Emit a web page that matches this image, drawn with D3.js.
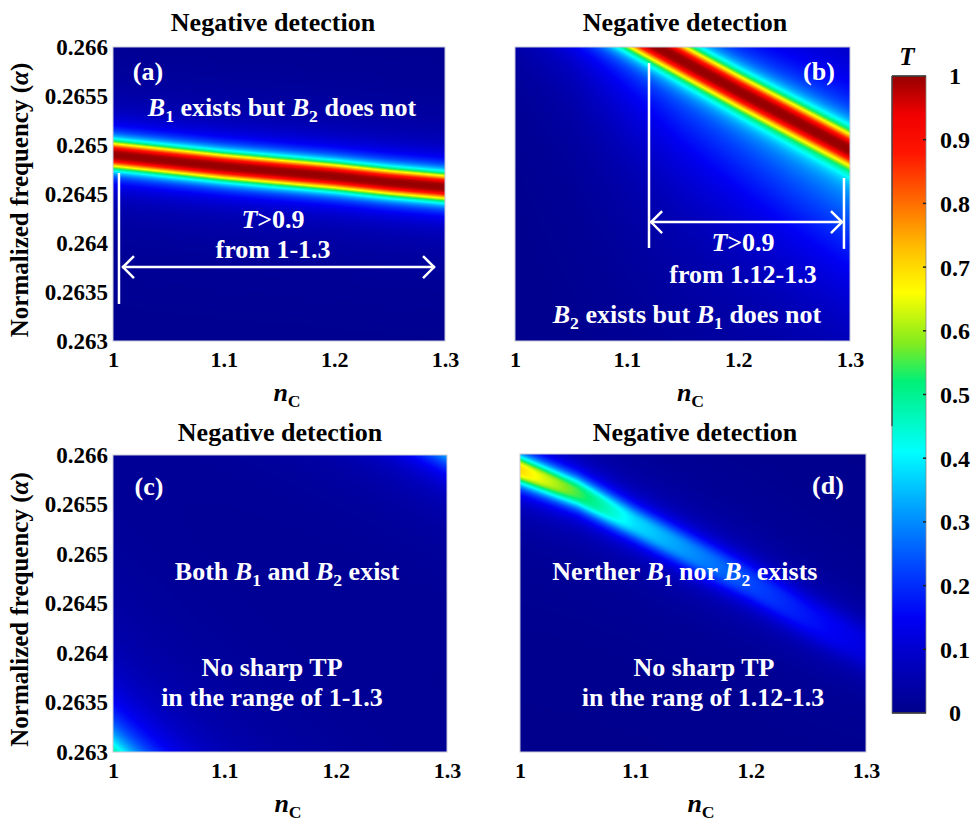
<!DOCTYPE html>
<html>
<head>
<meta charset="utf-8">
<script src="https://cdn.jsdelivr.net/npm/d3@7"></script>
<style>
  body { margin: 0; background: #fff; }
  svg { display: block; }
  text { font-family: "Liberation Serif", "Times New Roman", serif; font-weight: bold; fill: #000; }
</style>
</head>
<body>
<svg id="fig" width="976" height="823"></svg>
<script>
// ---- axes ----
const nGrid = [1.00, 1.05, 1.10, 1.15, 1.20, 1.25, 1.30];
const xTicks = [1, 1.1, 1.2, 1.3];
const xTickLabels = ["1", "1.1", "1.2", "1.3"];
const yTicks = [0.263, 0.2635, 0.264, 0.2645, 0.265, 0.2655, 0.266];
const yTickLabels = ["0.263", "0.2635", "0.264", "0.2645", "0.265", "0.2655", "0.266"];
const cbTicks = [0, 0.1, 0.2, 0.3, 0.4, 0.5, 0.6, 0.7, 0.8, 0.9, 1];
const cbTickLabels = ["0", "0.1", "0.2", "0.3", "0.4", "0.5", "0.6", "0.7", "0.8", "0.9", "1"];

// ---- colour map of T ----
const cmapStops  = [0, 0.07, 0.15, 0.23, 0.32, 0.41, 0.52, 0.58, 0.66, 0.73, 0.80, 0.88, 0.94, 1];
const cmapColors = ["#00008c", "#0000b9", "#0000f5", "#0046ff", "#00a0ff", "#00ffff", "#00f078",
                    "#82eb1e", "#ffff00", "#ffbe00", "#ff6e00", "#ff1400", "#f00000", "#960000"];

// ---- transmission bands: centre frequency, peak T and half-width along nGrid ----
// (a) B1 band
const aB1Center = [0.26490, 0.26484, 0.26478, 0.26473, 0.26468, 0.26462, 0.26457];
const aB1Peak   = [1, 1, 1, 1, 1, 1, 1];
const aB1Width  = [0.000135, 0.000135, 0.000135, 0.000135, 0.000135, 0.000135, 0.000135];
// (b) B2 band and its broad tail
const bB2Center = [0.26677, 0.26647, 0.26617, 0.26586, 0.26555, 0.26525, 0.26495];
const bB2Peak   = [1, 1, 1, 1, 1, 1, 1];
const bB2Width  = [0.00017, 0.00017, 0.00017, 0.00017, 0.00017, 0.00017, 0.00017];
const bTailCenter = [0.26637, 0.26607, 0.26577, 0.26546, 0.26515, 0.26485, 0.26455];
const bTailPeak   = [0.00, 0.03, 0.09, 0.14, 0.17, 0.20, 0.22];
const bTailWidth  = [0.0010, 0.0010, 0.0010, 0.0010, 0.0010, 0.0010, 0.0010];
// (c) bands just outside the window (lower-left and upper-right)
const cLowCenter  = [0.26280, 0.26230, 0.26180, 0.26130, 0.26080, 0.26030, 0.25980];
const cLowPeak    = [0.62, 0.62, 0.62, 0.62, 0.62, 0.62, 0.62];
const cLowWidth   = [0.0004, 0.0004, 0.0004, 0.0004, 0.0004, 0.0004, 0.0004];
const cHighCenter = [0.26795, 0.26765, 0.26735, 0.26705, 0.26675, 0.26645, 0.26615];
const cHighPeak   = [0.45, 0.45, 0.45, 0.45, 0.45, 0.45, 0.45];
const cHighWidth  = [0.00025, 0.00025, 0.00025, 0.00025, 0.00025, 0.00025, 0.00025];
// (d) weak fading band
const dCenter = [0.26584, 0.26561, 0.26530, 0.26500, 0.26470, 0.26436, 0.26406];
const dPeak   = [0.70, 0.55, 0.38, 0.30, 0.23, 0.17, 0.12];
const dWidth  = [0.00014, 0.00015, 0.00017, 0.00019, 0.00021, 0.00023, 0.00025];

const panels = [
  { key: "a", left: 113, top: 47, w: 332, h: 294, yAxis: true, titleX: 273, titleY: 31,
    bands: [{ center: aB1Center, peak: aB1Peak, width: aB1Width, shape: "sharp" }],
    notes: [
      { n: 1.0316, f: 0.265745, segs: [["(a)", ""]] },
      { n: 1.1527, f: 0.265378, segs: [["B", "i"], ["1", "s"], [" exists but ", ""], ["B", "i"], ["2", "s"], [" does not", ""]] },
      { n: 1.1446, f: 0.264235, segs: [["T", "i"], [">0.9", ""]] },
      { n: 1.1446, f: 0.263929, segs: [["from 1-1.3", ""]] }
    ],
    vlines: [{ n: 1.0054, f0: 0.264714, f1: 0.263378 }],
    arrows: [{ n0: 1.0081, n1: 1.291, f: 0.263755 }] },
  { key: "b", left: 515, top: 47, w: 335, h: 294, yAxis: false, titleX: 685, titleY: 31,
    bands: [{ center: bB2Center, peak: bB2Peak, width: bB2Width, shape: "sharp" },
            { center: bTailCenter, peak: bTailPeak, width: bTailWidth, shape: "soft" }],
    notes: [
      { n: 1.2722, f: 0.265745, segs: [["(b)", ""]] },
      { n: 1.2042, f: 0.264000, segs: [["T", "i"], [">0.9", ""]] },
      { n: 1.2042, f: 0.263674, segs: [["from 1.12-1.3", ""]] },
      { n: 1.1540, f: 0.263265, segs: [["B", "i"], ["2", "s"], [" exists but ", ""], ["B", "i"], ["1", "s"], [" does not", ""]] }
    ],
    vlines: [{ n: 1.12, f0: 0.265837, f1: 0.263949 }, { n: 1.2946, f0: 0.264663, f1: 0.263940 }],
    arrows: [{ n0: 1.121, n1: 1.2937, f: 0.264214 }] },
  { key: "c", left: 113, top: 455, w: 334, h: 297, yAxis: true, titleX: 280, titleY: 441,
    bands: [{ center: cLowCenter, peak: cLowPeak, width: cLowWidth, shape: "soft" },
            { center: cHighCenter, peak: cHighPeak, width: cHighWidth, shape: "soft" }],
    notes: [
      { n: 1.0323, f: 0.265677, segs: [["(c)", ""]] },
      { n: 1.1563, f: 0.264818, segs: [["Both ", ""], ["B", "i"], ["1", "s"], [" and ", ""], ["B", "i"], ["2", "s"], [" exist", ""]] },
      { n: 1.1428, f: 0.263848, segs: [["No sharp TP", ""]] },
      { n: 1.1428, f: 0.263545, segs: [["in the range of 1-1.3", ""]] }
    ],
    vlines: [], arrows: [] },
  { key: "d", left: 520, top: 454, w: 346, h: 298, yAxis: false, titleX: 695, titleY: 441,
    bands: [{ center: dCenter, peak: dPeak, width: dWidth, shape: "sharp" }],
    notes: [
      { n: 1.2670, f: 0.265678, segs: [["(d)", ""]] },
      { n: 1.1430, f: 0.264812, segs: [["Nerther ", ""], ["B", "i"], ["1", "s"], [" nor ", ""], ["B", "i"], ["2", "s"], [" exists", ""]] },
      { n: 1.1595, f: 0.263846, segs: [["No sharp TP", ""]] },
      { n: 1.1587, f: 0.263544, segs: [["in the rang of 1.12-1.3", ""]] }
    ],
    vlines: [], arrows: [] }
];

const svg = d3.select("#fig");
const cmap = d3.scaleLinear().domain(cmapStops).range(cmapColors).clamp(true);
const lut = d3.range(1024).map(i => d3.rgb(cmap(i / 1023)));

// writes a run of styled pieces: "i" italic, "s" subscript
function rich(sel, segs, fs) {
  let down = false;
  segs.forEach(([t, st]) => {
    const ts = sel.append("tspan").text(t);
    if (st === "i") ts.attr("font-style", "italic");
    if (st === "s") {
      ts.attr("font-size", fs * 0.68).attr("dy", fs * 0.22);
      down = true;
    } else if (down) {
      ts.attr("dy", -fs * 0.22);
      down = false;
    }
  });
  return sel;
}

// band profile: rounded peak with a long faint tail
function bandT(p, u, sharp) {
  const a = Math.abs(u), u2 = u * u;
  return sharp ? p * (0.85 / (1 + a * a * a) + 0.15 / (1 + u2 / 6.25)) : p / (1 + u2);
}

function heatmap(g, x, y, bands, w, h) {
  const canvas = document.createElement("canvas");
  canvas.width = w; canvas.height = h;
  const ctx = canvas.getContext("2d");
  const img = ctx.createImageData(w, h);
  const rs = bands.map(b => ({
    c: d3.scaleLinear().domain(nGrid).range(b.center),
    p: d3.scaleLinear().domain(nGrid).range(b.peak),
    g: d3.scaleLinear().domain(nGrid).range(b.width),
    sharp: b.shape === "sharp"
  }));
  for (let i = 0; i < w; i++) {
    const n = x.invert(i + 0.5);
    const pre = rs.map(r => [r.c(n), r.p(n), r.g(n), r.sharp]);
    for (let j = 0; j < h; j++) {
      const f = y.invert(j + 0.5);
      // overlapping bands combine without exceeding full transmission
      let miss = 1;
      for (const [c, p, gw, sharp] of pre) miss *= 1 - Math.min(1, bandT(p, (f - c) / gw, sharp));
      const T = Math.max(0, Math.min(1, 1 - miss));
      const col = lut[Math.round(T * 1023)];
      const k = (j * w + i) * 4;
      img.data[k] = col.r; img.data[k + 1] = col.g; img.data[k + 2] = col.b; img.data[k + 3] = 255;
    }
  }
  ctx.putImageData(img, 0, 0);
  g.append("image").attr("x", 0).attr("y", 0).attr("width", w).attr("height", h)
    .attr("preserveAspectRatio", "none").attr("href", canvas.toDataURL());
}

panels.forEach(p => {
  const g = svg.append("g").attr("transform", `translate(${p.left},${p.top})`);
  const x = d3.scaleLinear().domain([1, 1.3]).range([0, p.w]);
  const y = d3.scaleLinear().domain([0.263, 0.266]).range([p.h, 0]);

  heatmap(g, x, y, p.bands, p.w, p.h);
  g.append("rect").attr("width", p.w).attr("height", p.h)
    .attr("fill", "none").attr("stroke", "#c8c8d8").attr("stroke-width", 1);

  // x axis
  const xa = g.append("g").attr("transform", `translate(0,${p.h})`)
    .call(d3.axisBottom(x).tickValues(xTicks).tickFormat((d, i) => xTickLabels[i]).tickSize(0).tickPadding(10));
  xa.select(".domain").remove();
  xa.selectAll("text").attr("font-size", 22).attr("font-family", null).attr("fill", "#000");

  if (p.yAxis) {
    const ya = g.append("g")
      .call(d3.axisLeft(y).tickValues(yTicks).tickFormat((d, i) => yTickLabels[i]).tickSize(0).tickPadding(5));
    ya.select(".domain").remove();
    ya.selectAll("text").attr("font-size", 23).attr("font-family", null).attr("fill", "#000");
    const yl = svg.append("text")
      .attr("transform", `translate(28,${p.top + p.h / 2 + 6}) rotate(-90)`)
      .attr("text-anchor", "middle").attr("font-size", 25);
    rich(yl, [["Normalized frequency (", ""], ["α", "i"], [")", ""]], 25);
  }

  // x label
  const xl = svg.append("text")
    .attr("x", p.left + p.w / 2 + 8).attr("y", p.top + p.h + 60)
    .attr("text-anchor", "middle").attr("font-size", 26);
  rich(xl, [["n", "i"], ["C", "s"]], 26);

  // title
  svg.append("text").attr("x", p.titleX).attr("y", p.titleY)
    .attr("text-anchor", "middle").attr("font-size", 26).text("Negative detection");

  // annotations
  p.notes.forEach(a => {
    const t = g.append("text").attr("x", x(a.n)).attr("y", y(a.f) + 8)
      .attr("text-anchor", "middle").attr("font-size", 26).style("fill", "#fff");
    rich(t, a.segs, 26);
  });
  p.vlines.forEach(l => {
    g.append("line").attr("x1", x(l.n)).attr("x2", x(l.n)).attr("y1", y(l.f0)).attr("y2", y(l.f1))
      .attr("stroke", "#fff").attr("stroke-width", 2.5);
  });
  p.arrows.forEach(a => {
    const x0 = x(a.n0), x1 = x(a.n1), yy = y(a.f);
    g.append("line").attr("x1", x0).attr("x2", x1).attr("y1", yy).attr("y2", yy)
      .attr("stroke", "#fff").attr("stroke-width", 2.5);
    g.append("path").attr("d", `M${x0 + 12},${yy - 11}L${x0 + 1},${yy}L${x0 + 12},${yy + 11}`)
      .attr("fill", "none").attr("stroke", "#fff").attr("stroke-width", 2.5);
    g.append("path").attr("d", `M${x1 - 12},${yy - 11}L${x1 - 1},${yy}L${x1 - 12},${yy + 11}`)
      .attr("fill", "none").attr("stroke", "#fff").attr("stroke-width", 2.5);
  });
});

// ---- colour bar ----
const cbX = 892, cbW = 34;
const cbY = d3.scaleLinear().domain([0, 1]).range([713, 76]);
const grad = svg.append("defs").append("linearGradient").attr("id", "cbGrad")
  .attr("x1", 0).attr("y1", 1).attr("x2", 0).attr("y2", 0);
cmapStops.forEach((s, i) => grad.append("stop").attr("offset", s).attr("stop-color", cmapColors[i]));
svg.append("rect").attr("x", cbX).attr("y", cbY(1)).attr("width", cbW).attr("height", cbY(0) - cbY(1))
  .attr("fill", "url(#cbGrad)").attr("stroke", "#888").attr("stroke-width", 0.8);
svg.append("line").attr("x1", cbX).attr("x2", cbX + cbW).attr("y1", cbY(1)).attr("y2", cbY(1))
  .attr("stroke", "#333").attr("stroke-width", 1.5);
svg.append("line").attr("x1", cbX).attr("x2", cbX + cbW).attr("y1", cbY(0)).attr("y2", cbY(0))
  .attr("stroke", "#333").attr("stroke-width", 1.5);
svg.append("line").attr("x1", cbX).attr("x2", cbX).attr("y1", cbY(1)).attr("y2", cbY(0.45))
  .attr("stroke", "#333").attr("stroke-width", 1.2);
svg.append("g").selectAll("line").data(cbTicks.slice(1, -1)).join("line")
  .attr("x1", cbX + cbW - 3).attr("x2", cbX + cbW).attr("y1", d => cbY(d)).attr("y2", d => cbY(d))
  .attr("stroke", "#222").attr("stroke-width", 1.5);
svg.append("g").selectAll("text").data(cbTicks).join("text")
  .attr("x", 955).attr("y", d => cbY(d)).attr("dy", "0.35em")
  .attr("text-anchor", "middle").attr("font-size", 24)
  .text((d, i) => cbTickLabels[i]);
svg.append("text").attr("x", 907).attr("y", 65).attr("text-anchor", "middle")
  .attr("font-size", 25).attr("font-style", "italic").text("T");
</script>
</body>
</html>
